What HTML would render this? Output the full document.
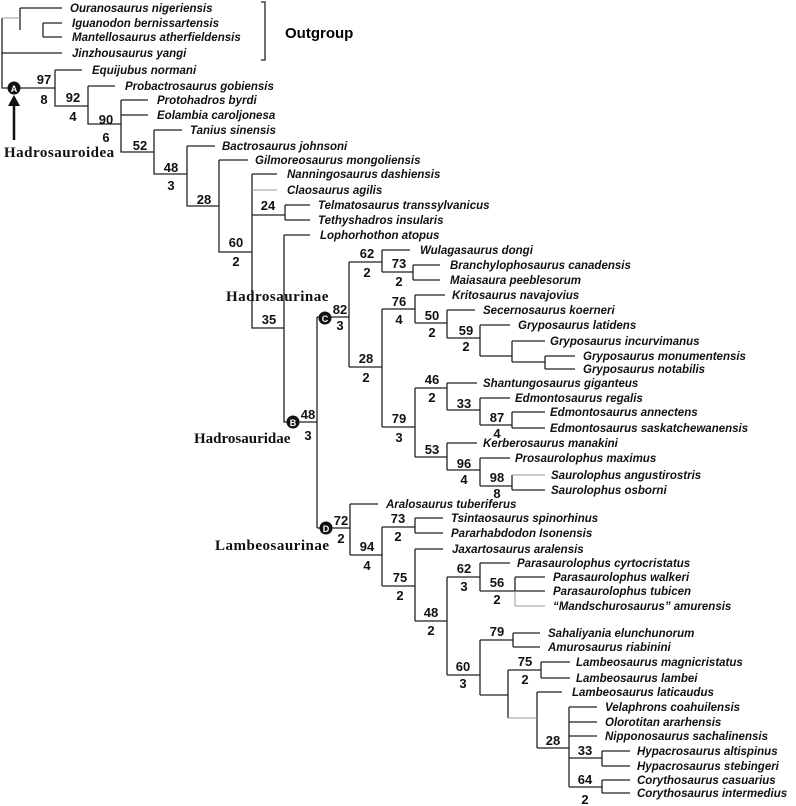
<!DOCTYPE html>
<html><head><meta charset="utf-8"><style>
html,body{margin:0;padding:0;background:#fff}
svg{display:block}
.t{font-family:"Liberation Sans",sans-serif;font-weight:bold;font-style:italic;font-size:11.5px;fill:#111}
.n{font-family:"Liberation Sans",sans-serif;font-weight:bold;font-size:13px;fill:#111;text-anchor:middle}
.c{font-family:"Liberation Serif",serif;font-weight:bold;font-size:15px;fill:#111;letter-spacing:0.5px}
.l{stroke:#222;stroke-width:1.3;fill:none}
.g{stroke:#999;stroke-width:1;fill:none}
</style></head><body>
<svg width="796" height="806" viewBox="0 0 796 806" xmlns="http://www.w3.org/2000/svg">
<path class="l" d="M2,18V88H55 M2,53H62 M20,8V30 M20,8H62 M43,23V37 M43,23H62 M43,37H62"/>
<path class="g" d="M2,18H20"/>
<path class="l" d="M261,2H265V60H261"/>
<text x="285" y="38" style="font-family:'Liberation Sans',sans-serif;font-weight:bold;font-size:15px">Outgroup</text>
<text class="t" x="70" y="12">Ouranosaurus nigeriensis</text>
<text class="t" x="72" y="27">Iguanodon bernissartensis</text>
<text class="t" x="72" y="41">Mantellosaurus atherfieldensis</text>
<text class="t" x="72" y="57">Jinzhousaurus yangi</text>
<circle cx="14" cy="88" r="6.5" fill="#111"/><text x="14" y="92" fill="#fff" font-size="9" font-family="Liberation Sans" font-weight="bold" text-anchor="middle">A</text>
<path d="M14,140V104" stroke="#111" stroke-width="2.5"/><path d="M8,106L14,95L20,106Z" fill="#111"/>
<text class="c" x="4" y="157">Hadrosauroidea</text>
<path class="l" d="M55,70V106H88 M55,70H82 M88,86V124H121 M88,86H115 M121,100V152H154 M121,100H148 M121,115H148 M154,130V174H187 M154,130H182 M187,146V206H219 M187,146H215 M219,160V252H252 M219,160H248 M252,174V328H284 M252,174H277 M252,215H285 M285,205V220 M285,205H310 M285,220H310 M284,235V422H317 M284,235H310"/>
<path class="g" d="M252,190H277"/>
<text class="n" x="44" y="84">97</text><text class="n" x="44" y="104">8</text>
<text class="n" x="73" y="102">92</text><text class="n" x="73" y="121">4</text>
<text class="n" x="106" y="124">90</text><text class="n" x="106" y="142">6</text>
<text class="n" x="140" y="150">52</text>
<text class="n" x="171" y="172">48</text><text class="n" x="171" y="190">3</text>
<text class="n" x="204" y="204">28</text>
<text class="n" x="268" y="210">24</text>
<text class="n" x="236" y="247">60</text><text class="n" x="236" y="266">2</text>
<text class="n" x="269" y="324">35</text>
<text class="t" x="92" y="74">Equijubus normani</text>
<text class="t" x="125" y="90">Probactrosaurus gobiensis</text>
<text class="t" x="157" y="104">Protohadros byrdi</text>
<text class="t" x="157" y="119">Eolambia caroljonesa</text>
<text class="t" x="190" y="134">Tanius sinensis</text>
<text class="t" x="222" y="150">Bactrosaurus johnsoni</text>
<text class="t" x="255" y="164">Gilmoreosaurus mongoliensis</text>
<text class="t" x="287" y="178">Nanningosaurus dashiensis</text>
<text class="t" x="287" y="194">Claosaurus agilis</text>
<text class="t" x="318" y="209">Telmatosaurus transsylvanicus</text>
<text class="t" x="318" y="224">Tethyshadros  insularis</text>
<text class="t" x="320" y="239">Lophorhothon atopus</text>
<text class="c" x="226" y="301">Hadrosaurinae</text>
<circle cx="293" cy="422" r="6.5" fill="#111"/><text x="293" y="426" fill="#fff" font-size="9" font-family="Liberation Sans" font-weight="bold" text-anchor="middle">B</text>
<text class="n" x="308" y="419">48</text><text class="n" x="308" y="440">3</text>
<text class="c" x="194" y="443" style="letter-spacing:0">Hadrosauridae</text>
<path class="l" d="M317,317V528 M317,317H349 M317,528H350"/>
<circle cx="325" cy="318" r="6.5" fill="#111"/><text x="325" y="322" fill="#fff" font-size="9" font-family="Liberation Sans" font-weight="bold" text-anchor="middle">C</text>
<text class="n" x="340" y="314">82</text><text class="n" x="340" y="330">3</text>
<path class="l" d="M349,262V367 M349,262H382 M349,367H382 M382,250V272 M382,250H410 M382,272H413 M413,265V280 M413,265H440 M413,280H440
M382,309V427 M382,309H415 M382,427H415 M415,295V323 M415,295H445 M415,323H447 M447,310V338 M447,310H475 M447,338H480 M480,325V356 M480,325H510 M480,356H512 M512,341V362 M512,341H545 M512,362H545 M545,356V369 M545,356H575 M545,369H575
M415,388V457 M415,388H447 M415,457H447 M447,383V410 M447,383H477 M447,410H480 M480,398V425 M480,398H510 M480,425H512 M512,412V428 M512,412H545 M512,428H545
M447,443V470 M447,443H477 M447,470H480 M480,458V486 M480,458H510 M480,486H512 M512,475V490 M512,490H545"/>
<path class="g" d="M512,475H545"/>
<text class="n" x="367" y="258">62</text><text class="n" x="367" y="277">2</text>
<text class="n" x="399" y="268">73</text><text class="n" x="399" y="286">2</text>
<text class="n" x="366" y="363">28</text><text class="n" x="366" y="382">2</text>
<text class="n" x="399" y="306">76</text><text class="n" x="399" y="324">4</text>
<text class="n" x="432" y="320">50</text><text class="n" x="432" y="337">2</text>
<text class="n" x="466" y="335">59</text><text class="n" x="466" y="351">2</text>
<text class="n" x="399" y="423">79</text><text class="n" x="399" y="442">3</text>
<text class="n" x="432" y="384">46</text><text class="n" x="432" y="402">2</text>
<text class="n" x="464" y="408">33</text>
<text class="n" x="497" y="422">87</text><text class="n" x="497" y="438">4</text>
<text class="n" x="432" y="454">53</text>
<text class="n" x="464" y="468">96</text><text class="n" x="464" y="484">4</text>
<text class="n" x="497" y="482">98</text><text class="n" x="497" y="498">8</text>
<text class="t" x="420" y="254">Wulagasaurus dongi</text>
<text class="t" x="450" y="269">Branchylophosaurus canadensis</text>
<text class="t" x="450" y="284">Maiasaura  peeblesorum</text>
<text class="t" x="452" y="299">Kritosaurus navajovius</text>
<text class="t" x="483" y="314">Secernosaurus koerneri</text>
<text class="t" x="518" y="329">Gryposaurus latidens</text>
<text class="t" x="550" y="345">Gryposaurus incurvimanus</text>
<text class="t" x="583" y="360">Gryposaurus monumentensis</text>
<text class="t" x="583" y="373">Gryposaurus notabilis</text>
<text class="t" x="483" y="387">Shantungosaurus giganteus</text>
<text class="t" x="515" y="402">Edmontosaurus regalis</text>
<text class="t" x="550" y="416">Edmontosaurus annectens</text>
<text class="t" x="550" y="432">Edmontosaurus saskatchewanensis</text>
<text class="t" x="483" y="447">Kerberosaurus manakini</text>
<text class="t" x="515" y="462">Prosaurolophus maximus</text>
<text class="t" x="551" y="479">Saurolophus angustirostris</text>
<text class="t" x="551" y="494">Saurolophus  osborni</text>
<circle cx="326" cy="528" r="6.5" fill="#111"/><text x="326" y="532" fill="#fff" font-size="9" font-family="Liberation Sans" font-weight="bold" text-anchor="middle">D</text>
<text class="n" x="341" y="525">72</text><text class="n" x="341" y="543">2</text>
<text class="c" x="215" y="550">Lambeosaurinae</text>
<path class="l" d="M350,504V555 M350,504H378 M350,555H382 M382,527V586 M382,527H415 M382,586H415 M415,518V533 M415,518H443 M415,533H443 M415,549V621 M415,549H443 M415,621H447
M447,577V675 M447,577H480 M447,675H480 M480,563V591 M480,563H510 M480,591H515 M515,577V591 M515,577H545 M515,591H545
M480,640V695 M480,640H513 M480,695H508 M513,633V647 M513,633H540 M513,647H540 M508,670V718 M508,670H541 M541,662V678 M541,662H570 M541,678H570
M537,692V748 M537,692H562 M537,748H569 M569,707V787 M569,707H597 M569,722H597 M569,736H597 M569,758H602 M602,751V766 M602,751H630 M602,766H630 M569,787H602 M602,780V793 M602,780H630 M602,793H630"/>
<path class="g" d="M515,591V606H545 M508,718H537"/>
<text class="n" x="367" y="551">94</text><text class="n" x="367" y="570">4</text>
<text class="n" x="398" y="523">73</text><text class="n" x="398" y="541">2</text>
<text class="n" x="400" y="582">75</text><text class="n" x="400" y="600">2</text>
<text class="n" x="431" y="617">48</text><text class="n" x="431" y="635">2</text>
<text class="n" x="464" y="573">62</text><text class="n" x="464" y="591">3</text>
<text class="n" x="497" y="587">56</text><text class="n" x="497" y="604">2</text>
<text class="n" x="463" y="671">60</text><text class="n" x="463" y="688">3</text>
<text class="n" x="497" y="636">79</text>
<text class="n" x="525" y="666">75</text><text class="n" x="525" y="684">2</text>
<text class="n" x="553" y="745">28</text>
<text class="n" x="585" y="755">33</text>
<text class="n" x="585" y="784">64</text><text class="n" x="585" y="804">2</text>
<text class="t" x="386" y="508">Aralosaurus tuberiferus</text>
<text class="t" x="451" y="522">Tsintaosaurus spinorhinus</text>
<text class="t" x="451" y="537">Pararhabdodon Isonensis</text>
<text class="t" x="452" y="553">Jaxartosaurus aralensis</text>
<text class="t" x="517" y="567">Parasaurolophus  cyrtocristatus</text>
<text class="t" x="553" y="581">Parasaurolophus  walkeri</text>
<text class="t" x="553" y="595">Parasaurolophus  tubicen</text>
<text class="t" x="553" y="610">“Mandschurosaurus” amurensis</text>
<text class="t" x="548" y="637">Sahaliyania elunchunorum</text>
<text class="t" x="548" y="651">Amurosaurus riabinini</text>
<text class="t" x="576" y="666">Lambeosaurus magnicristatus</text>
<text class="t" x="576" y="682">Lambeosaurus lambei</text>
<text class="t" x="572" y="696">Lambeosaurus laticaudus</text>
<text class="t" x="605" y="711">Velaphrons coahuilensis</text>
<text class="t" x="605" y="726">Olorotitan ararhensis</text>
<text class="t" x="605" y="740">Nipponosaurus sachalinensis</text>
<text class="t" x="637" y="755">Hypacrosaurus altispinus</text>
<text class="t" x="637" y="770">Hypacrosaurus stebingeri</text>
<text class="t" x="637" y="784">Corythosaurus casuarius</text>
<text class="t" x="637" y="797">Corythosaurus intermedius</text>
</svg>
</body></html>
